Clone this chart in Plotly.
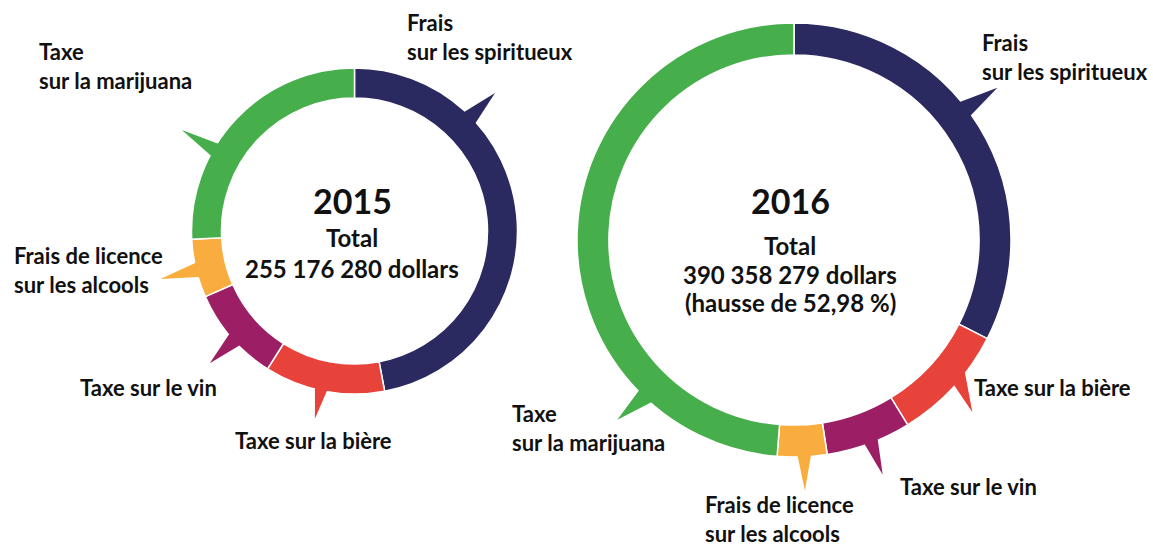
import math
import plotly.graph_objects as go

# ---------------- data ----------------
categories = ["Frais sur les spiritueux", "Taxe sur la bière", "Taxe sur le vin",
              "Frais de licence sur les alcools", "Taxe sur la marijuana"]
values_2015 = [120.0, 30.4, 24.1, 14.8, 65.8]      # millions de dollars (estimés)
values_2016 = [126.9, 34.0, 24.7, 14.4, 190.3]     # millions de dollars (estimés)
years = ["2015", "2016"]
totals = ["255 176 280 dollars", "390 358 279 dollars"]
increase_2016 = "(hausse de 52,98 %)"
label_text = ["Frais<br>sur les spiritueux", "Taxe sur la bière", "Taxe sur le vin",
              "Frais de licence<br>sur les alcools", "Taxe<br>sur la marijuana"]

# ---------------- style ----------------
W, H = 1153, 548
colors = ["#2a2960", "#e8433b", "#9c1e64", "#f8ad3e", "#47ae4c"]
FONT = "Lato"
TXT = "#111111"

def px(x):
    return x / W

def py(y):
    return 1 - y / H

# donut geometry (pixel centre, outer radius, hole fraction)
donuts = [
    dict(cx=354.5, cy=231, R=163, hole=0.816),
    dict(cx=794, cy=240, R=217, hole=0.853),
]

fig = go.Figure()
for vals, d in zip([values_2015, values_2016], donuts):
    fig.add_trace(go.Pie(
        values=vals, labels=categories, sort=False, direction="clockwise",
        rotation=0, hole=d["hole"], textinfo="none", showlegend=False,
        marker=dict(colors=colors, line=dict(color="white", width=1.5)),
        domain=dict(x=[px(d["cx"] - d["R"]), px(d["cx"] + d["R"])],
                    y=[py(d["cy"] + d["R"]), py(d["cy"] - d["R"])]),
    ))

# speech-bubble tails: (category index, base angle 1, base angle 2, tip angle, tip radius)
tails = [
    [(0, 42.4, 48.6, 45.5, 197), (4, 297.4, 302.8, 300.3, 200), (3, 253.3, 258.9, 256.1, 200),
     (2, 224.9, 230.9, 227.6, 196), (1, 189.5, 194.4, 191.9, 192)],
    [(0, 50.0, 55.0, 53.2, 254), (1, 127.0, 132.0, 134.0, 248), (2, 157.0, 161.1, 159.3, 251),
     (3, 175.3, 179.2, 177.5, 251), (4, 221.0, 226.0, 224.5, 252)],
]

def pol(d, ang, r):
    a = math.radians(ang)
    return px(d["cx"] + r * math.sin(a)), py(d["cy"] - r * math.cos(a))

shapes = []
for d, tl in zip(donuts, tails):
    for ci, a1, a2, at, rt in tl:
        p1 = pol(d, a1, d["R"] - 4)
        p2 = pol(d, a2, d["R"] - 4)
        pt = pol(d, at, rt)
        path = f"M{p1[0]},{p1[1]} L{pt[0]},{pt[1]} L{p2[0]},{p2[1]} Z"
        shapes.append(dict(type="path", path=path, xref="paper", yref="paper",
                           fillcolor=colors[ci], line=dict(width=0), layer="above"))

# category label positions (left x, vertical centre of the text block, in pixels)
label_pos = [
    [(405, 37), (233, 440), (78, 387), (12, 270), (37, 66)],
    [(980, 57), (972, 387), (898, 486), (703, 519), (510, 428)],
]
LABEL_SIZE = 22

annotations = []
for lp in label_pos:
    for (x, y), t in zip(lp, label_text):
        annotations.append(dict(x=px(x), y=py(y), xref="paper", yref="paper",
                                xanchor="left", yanchor="middle", text="<b>" + t + "</b>",
                                showarrow=False, align="left",
                                font=dict(family=FONT, size=LABEL_SIZE, color=TXT)))

# centre texts
centre = [
    [(352, 200, years[0], 34), (352, 238, "Total", 24), (352, 268, totals[0], 24)],
    [(790, 200, years[1], 34), (790, 245, "Total", 24), (790, 274, totals[1], 24),
     (790, 302, increase_2016, 24)],
]
for grp in centre:
    for x, y, t, s in grp:
        annotations.append(dict(x=px(x), y=py(y), xref="paper", yref="paper",
                                xanchor="center", yanchor="middle", text="<b>" + t + "</b>",
                                showarrow=False, font=dict(family=FONT, size=s, color=TXT)))

fig.update_layout(width=W, height=H, margin=dict(l=0, r=0, t=0, b=0),
                  paper_bgcolor="white", plot_bgcolor="white",
                  shapes=shapes, annotations=annotations)
fig.write_html("out.html", config={"displayModeBar": False},
               post_script="document.body.style.margin='0px';")
